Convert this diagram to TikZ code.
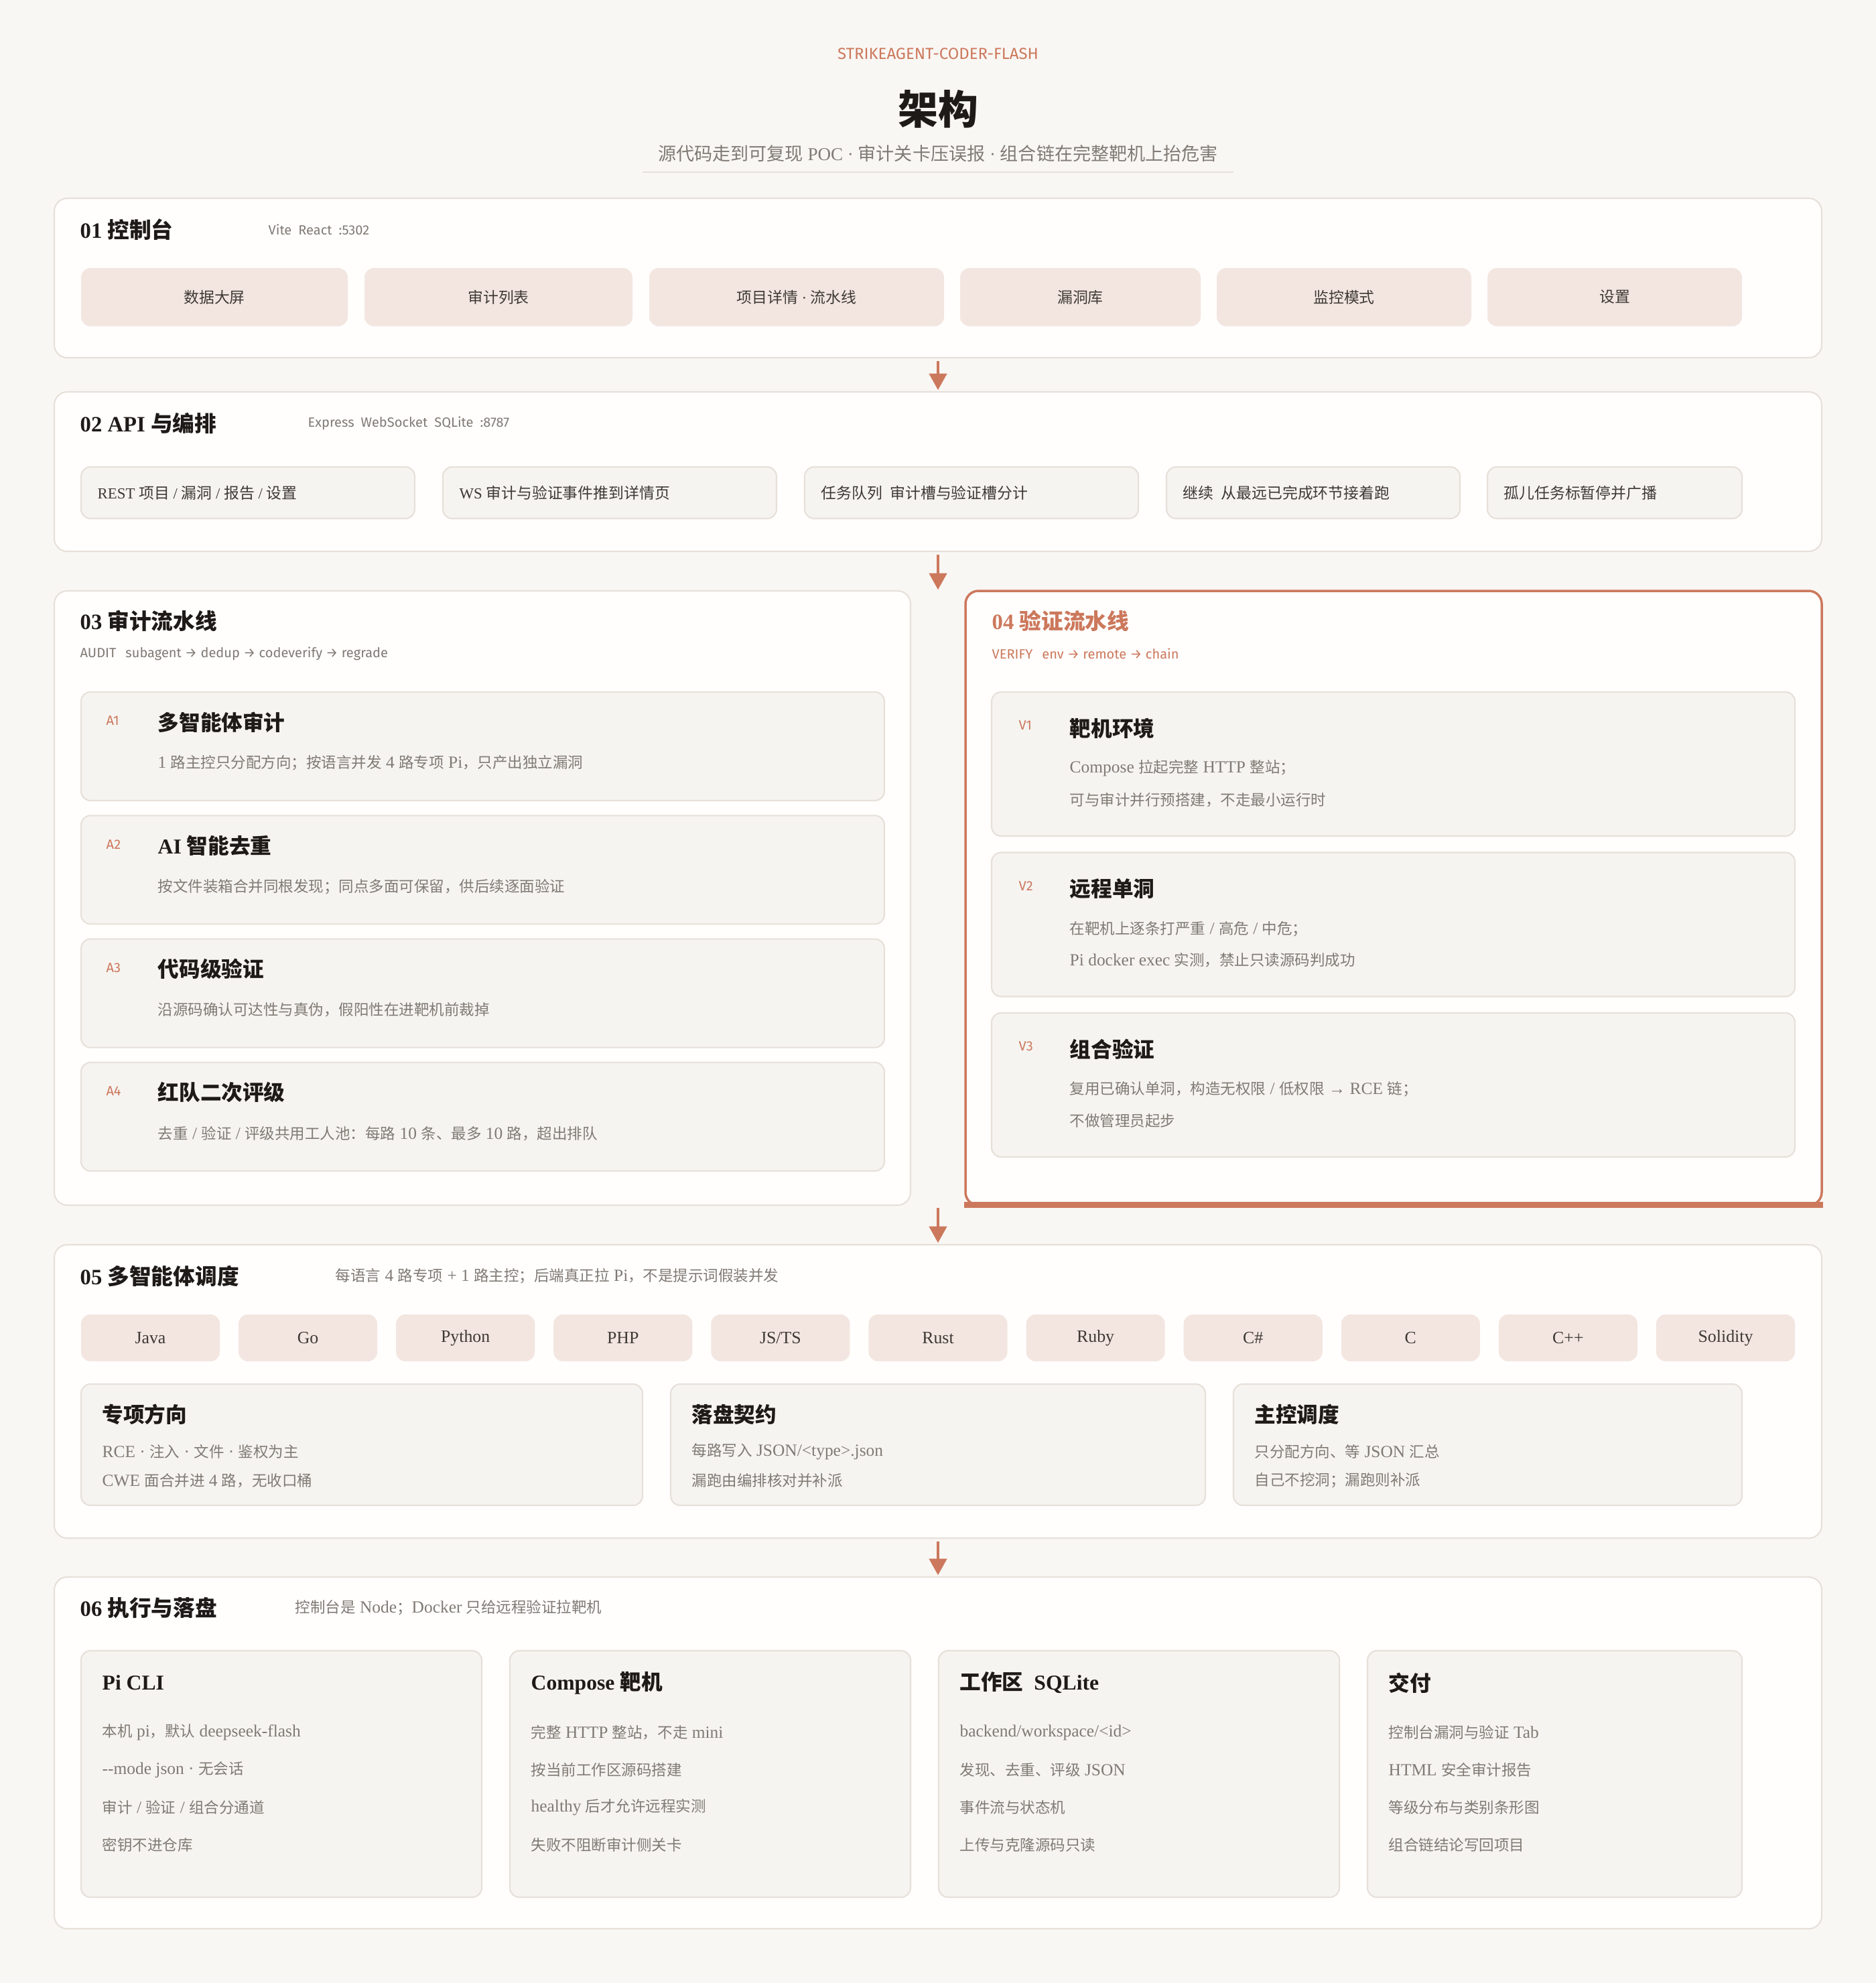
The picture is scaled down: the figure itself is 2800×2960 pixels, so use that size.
\documentclass[tikz,border=0pt]{standalone}
\usepackage{fontspec}
\usepackage{tikz}
\usetikzlibrary{arrows.meta,fit,positioning}

\setmainfont{Liberation Serif}
\newfontfamily\bodyserif{Liberation Serif}[Scale=1.13]
\newfontfamily\cjkfont{Noto Sans CJK SC}
\newfontfamily\tagfont{Fira Sans}

% CJK runs are set in the CJK face
\XeTeXinterchartokenstate=1
\chardef\cjkclass=7
\makeatletter
\count@="2E80
\loop\XeTeXcharclass\count@=\cjkclass \advance\count@ by 1 \ifnum\count@<"A000 \repeat
\count@="FF00
\loop\XeTeXcharclass\count@=\cjkclass \advance\count@ by 1 \ifnum\count@<"FFF0 \repeat
\makeatother
\XeTeXinterchartoks 0 \cjkclass = {\begingroup\cjkfont}
\XeTeXinterchartoks 4095 \cjkclass = {\begingroup\cjkfont}
\XeTeXinterchartoks \cjkclass 0 = {\endgroup}
\XeTeXinterchartoks \cjkclass 4095 = {\endgroup}

\definecolor{paper}{HTML}{F9F7F4}
\definecolor{panelfill}{HTML}{FFFEFD}
\definecolor{rim}{HTML}{E6E0D9}
\definecolor{chipfill}{HTML}{F3E6E0}
\definecolor{cardfill}{HTML}{F6F4F1}
\definecolor{accent}{HTML}{CC785C}
\definecolor{ink}{HTML}{1E1A17}
\definecolor{soft}{HTML}{3E3935}
\definecolor{mute}{HTML}{807A74}

\begin{document}
\begin{tikzpicture}[x=0.01cm, y=-0.01cm,
    panel/.style={draw=rim, line width=0.6pt, fill=panelfill, rounded corners=5.5pt, inner sep=0pt},
    chip/.style={fill=chipfill, rounded corners=4pt, inner sep=0pt, text=soft,
      font=\bodyserif\fontsize{6.5pt}{8pt}\selectfont},
    chiptxt/.style={inner sep=0pt, text=soft, font=\fontsize{6.5pt}{8pt}\selectfont},
    card/.style={draw=rim, line width=0.6pt, fill=cardfill, rounded corners=4pt, inner sep=0pt},
    secttl/.style={anchor=west, inner sep=0pt, text=ink, font=\fontsize{9.3pt}{11pt}\selectfont\bfseries},
    cardttl/.style={anchor=west, inner sep=0pt, text=ink, font=\fontsize{9pt}{11pt}\selectfont\bfseries},
    bodytxt/.style={anchor=west, inner sep=0pt, text=mute, font=\bodyserif\fontsize{6.4pt}{8pt}\selectfont},
    boxtxt/.style={anchor=west, inner sep=0pt, text=soft, font=\fontsize{6.5pt}{8pt}\selectfont},
    techtag/.style={anchor=west, inner sep=0pt, text=mute, font=\tagfont\fontsize{5.7pt}{7pt}\selectfont},
    steptag/.style={techtag, text=accent},
    flowarrow/.style={draw=accent, line width=1pt, shorten <=1pt, shorten >=0.5pt,
      -{Triangle[length=7pt,width=7.5pt]}}]

% page
\fill[paper] (0,0) rectangle (2800,2960);
\useasboundingbox (0,0) rectangle (2800,2960);

% header
\node[font=\tagfont\fontsize{6.8pt}{8pt}\selectfont, text=accent] (kicker) at (1400,80) {STRIKEAGENT-CODER-FLASH};
\node[font=\fontsize{17pt}{20pt}\selectfont\bfseries, text=ink] (title) at (1400,163) {架构};
\node[font=\fontsize{7.7pt}{10pt}\selectfont, text=mute] (subtitle) at (1400,229) {源代码走到可复现 POC · 审计关卡压误报 · 组合链在完整靶机上抬危害};
\draw[rim, line width=0.6pt] (959,257) -- (1841,257);

% 01 console
\node[panel, fit={(81,296) (2719,534)}] (s01) {};
\node[secttl] (s01-t) at (119,343) {01 控制台};
\node[techtag] (s01-g) at (400,343) {Vite\enspace React\enspace :5302};
\foreach \xa/\xb/\txt [count=\i] in {121/519/数据大屏, 544/944/审计列表,
    969/1409/项目详情 · 流水线, 1433/1792/漏洞库, 1816/2196/监控模式, 2220/2600/设置} {
  \node[chip, fit={(\xa,400) (\xb,487)}] (ui\i) {};
  \node[chiptxt] (ui\i-t) at (ui\i) {\txt};
}

% 02 api
\node[panel, fit={(81,585) (2719,823)}] (s02) {};
\node[secttl] (s02-t) at (119,632) {02 API 与编排};
\node[techtag] (s02-g) at (459,632) {Express\enspace WebSocket\enspace SQLite\enspace :8787};
\foreach \xa/\xb/\txt [count=\i] in {
    121/619/{REST 项目 / 漏洞 / 报告 / 设置},
    661/1159/WS 审计与验证事件推到详情页,
    1201/1699/任务队列\enspace 审计槽与验证槽分计,
    1741/2179/继续\enspace 从最远已完成环节接着跑,
    2220/2600/孤儿任务标暂停并广播} {
  \node[card, fit={(\xa,697) (\xb,774)}] (api\i) {};
  \node[boxtxt, right=0.25cm of api\i.west] (api\i-t) {\txt};
}

% 03 audit pipeline
\node[panel, fit={(81,882) (1359,1799)}] (s03) {};
\node[secttl] (s03-t) at (119,927) {03 审计流水线};
\node[techtag] (s03-g) at (119,976) {AUDIT\hspace{0.7em}subagent → dedup → codeverify → regrade};
\foreach \tg/\hd/\ds [count=\i] in {
    A1/多智能体审计/1 路主控只分配方向；按语言并发 4 路专项 Pi，只产出独立漏洞,
    A2/AI 智能去重/按文件装箱合并同根发现；同点多面可保留，供后续逐面验证,
    A3/代码级验证/沿源码确认可达性与真伪，假阳性在进靶机前裁掉,
    A4/红队二次评级/{去重 / 验证 / 评级共用工人池：每路 10 条、最多 10 路，超出排队}} {
  \pgfmathsetmacro\ytop{1033+(\i-1)*184.3}
  \node[card, fit={(121,\ytop) (1320,\ytop+162)}] (a\i) {};
  \node[steptag] (a\i-g) at ([xshift=0.38cm, yshift=-0.44cm]a\i.north west) {\tg};
  \node[cardttl] (a\i-t) at ([xshift=1.15cm, yshift=-0.46cm]a\i.north west) {\hd};
  \node[bodytxt] (a\i-d) at ([xshift=1.15cm, yshift=-1.07cm]a\i.north west) {\ds};
}

% 04 verify pipeline
\node[panel, draw=accent, line width=1pt, fit={(1441,882) (2719,1799)}] (s04) {};
\fill[accent] ([yshift=-0.6pt]s04.south west) rectangle ([yshift=2pt]s04.south east);
\node[secttl, text=accent] (s04-t) at (1480,927) {04 验证流水线};
\node[steptag] (s04-g) at (1480,976) {VERIFY\hspace{0.7em}env → remote → chain};
\foreach \tg/\hd/\la/\lb [count=\i] in {
    V1/靶机环境/Compose 拉起完整 HTTP 整站；/可与审计并行预搭建，不走最小运行时,
    V2/远程单洞/{在靶机上逐条打严重 / 高危 / 中危；}/Pi docker exec 实测，禁止只读源码判成功,
    V3/组合验证/{复用已确认单洞，构造无权限 / 低权限 → RCE 链；}/不做管理员起步} {
  \pgfmathsetmacro\ytop{1033+(\i-1)*239.5}
  \node[card, fit={(1480,\ytop) (2679,\ytop+215)}] (v\i) {};
  \node[steptag] (v\i-g) at ([xshift=0.41cm, yshift=-0.51cm]v\i.north west) {\tg};
  \node[cardttl] (v\i-t) at ([xshift=1.17cm, yshift=-0.55cm]v\i.north west) {\hd};
  \node[bodytxt] (v\i-a) at ([xshift=1.17cm, yshift=-1.15cm]v\i.north west) {\la};
  \node[bodytxt] (v\i-b) at ([xshift=1.17cm, yshift=-1.62cm]v\i.north west) {\lb};
}

% 05 agent dispatch
\node[panel, fit={(81,1858) (2719,2296)}] (s05) {};
\node[secttl] (s05-t) at (119,1905) {05 多智能体调度};
\node[bodytxt] (s05-g) at (500,1905) {每语言 4 路专项 + 1 路主控；后端真正拉 Pi，不是提示词假装并发};
\foreach \lang [count=\i] in {Java, Go, Python, PHP, JS/TS, Rust, Ruby, C\#, C, C++, Solidity}
  \node[chip, minimum width=2.07cm, minimum height=0.7cm] (lang\i) at ({224.5+(\i-1)*235.1},1997) {\lang};
\foreach \xa/\xb/\hd/\la/\lb [count=\i] in {
    121/959/专项方向/RCE · 注入 · 文件 · 鉴权为主/CWE 面合并进 4 路，无收口桶,
    1001/1799/落盘契约/{每路写入 JSON/<type>.json}/漏跑由编排核对并补派,
    1841/2600/主控调度/只分配方向、等 JSON 汇总/自己不挖洞；漏跑则补派} {
  \node[card, fit={(\xa,2066) (\xb,2247)}] (role\i) {};
  \node[cardttl] (role\i-t) at ([xshift=0.32cm, yshift=-0.46cm]role\i.north west) {\hd};
  \node[bodytxt] (role\i-a) at ([xshift=0.32cm, yshift=-1.02cm]role\i.north west) {\la};
  \node[bodytxt] (role\i-b) at ([xshift=0.32cm, yshift=-1.45cm]role\i.north west) {\lb};
}

% 06 runtime and storage
\node[panel, fit={(81,2354) (2719,2879)}] (s06) {};
\node[secttl] (s06-t) at (119,2400) {06 执行与落盘};
\node[bodytxt] (s06-g) at (440,2400) {控制台是 Node；Docker 只给远程验证拉靶机};
\foreach \xa/\xb/\hd/\la/\lb/\lc/\ld [count=\i] in {
    121/719/Pi CLI/本机 pi，默认 deepseek-flash/-{}-mode json · 无会话/{审计 / 验证 / 组合分通道}/密钥不进仓库,
    761/1359/Compose 靶机/完整 HTTP 整站，不走 mini/按当前工作区源码搭建/healthy 后才允许远程实测/失败不阻断审计侧关卡,
    1401/1999/工作区\enspace SQLite/{backend/workspace/<id>}/发现、去重、评级 JSON/事件流与状态机/上传与克隆源码只读,
    2041/2600/交付/控制台漏洞与验证 Tab/HTML 安全审计报告/等级分布与类别条形图/组合链结论写回项目} {
  \node[card, fit={(\xa,2464) (\xb,2832)}] (run\i) {};
  \node[cardttl] (run\i-t) at ([xshift=0.32cm, yshift=-0.49cm]run\i.north west) {\hd};
  \node[bodytxt] (run\i-a) at ([xshift=0.32cm, yshift=-1.23cm]run\i.north west) {\la};
  \node[bodytxt] (run\i-b) at ([xshift=0.32cm, yshift=-1.79cm]run\i.north west) {\lb};
  \node[bodytxt] (run\i-c) at ([xshift=0.32cm, yshift=-2.35cm]run\i.north west) {\lc};
  \node[bodytxt] (run\i-d) at ([xshift=0.32cm, yshift=-2.91cm]run\i.north west) {\ld};
}

% flow between layers
\coordinate (gap34top) at (1400,882);
\coordinate (gap34bot) at (1400,1799);
\draw[flowarrow] (s01) -- (s02);
\draw[flowarrow] (s02) -- (gap34top);
\draw[flowarrow] (gap34bot) -- (s05);
\draw[flowarrow] (s05) -- (s06);
\end{tikzpicture}
\end{document}
